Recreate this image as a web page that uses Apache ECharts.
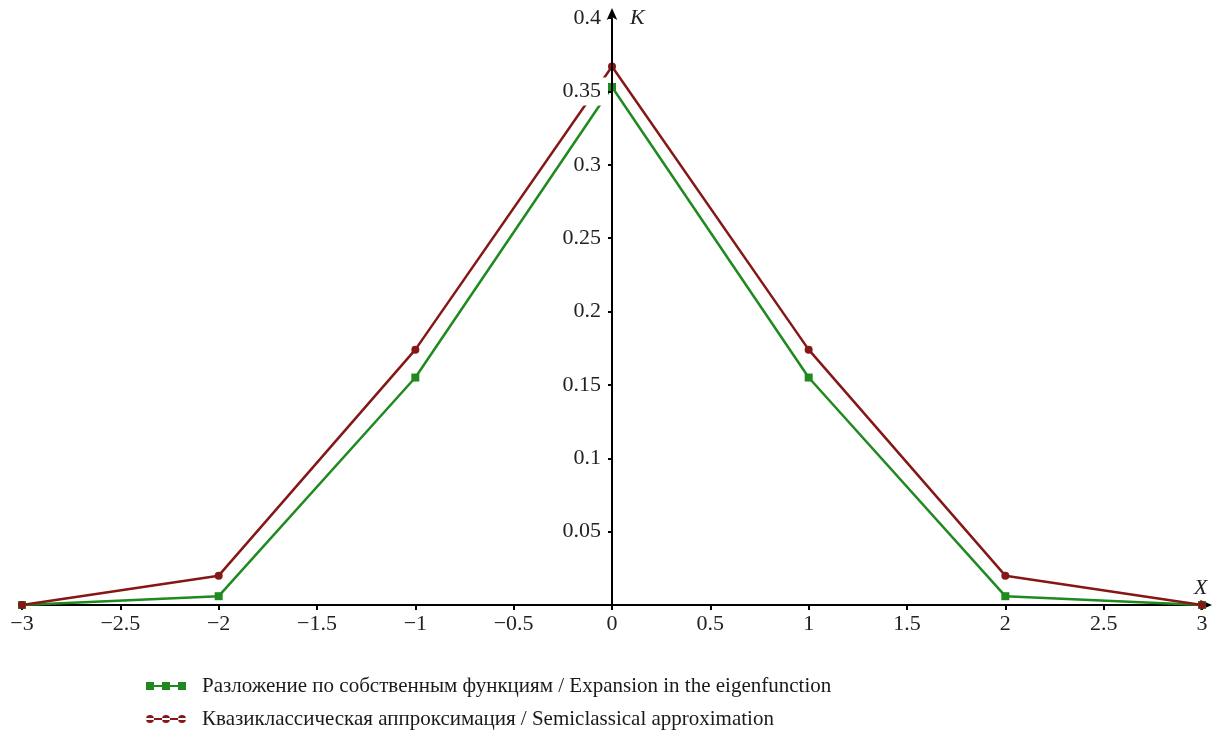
<!DOCTYPE html>
<html><head><meta charset="utf-8">
<script src="https://cdn.jsdelivr.net/npm/echarts@6/dist/echarts.min.js"></script>
<style>html,body{margin:0;padding:0;background:#fff}#c{width:1221px;height:732px}</style>
</head><body><div id="c"></div>
<script>
const xValues = [-3, -2, -1, 0, 1, 2, 3];
const eigenValues = [0, 0.006, 0.155, 0.353, 0.155, 0.006, 0];
const semiValues = [0, 0.020, 0.174, 0.367, 0.174, 0.020, 0];
const seriesNames = ['Разложение по собственным функциям / Expansion in the eigenfunction',
                     'Квазиклассическая аппроксимация / Semiclassical approximation'];
const GREEN = '#1f8a1f', RED = '#851717';
const FONT = '"Liberation Serif", "Times New Roman", serif';
const fmtMinus = v => String(v).replace('-', '\u2212');

const chart = echarts.init(document.getElementById('c'));
const sqIcon = 'path://M0,4h40v2H0z M0,1h8v8H0z M16,1h8v8H16z M32,1h8v8H32z';
const ciIcon = 'path://M0,4h40v2H0z M0,5a4,4 0 1,0 8,0a4,4 0 1,0 -8,0z M16,5a4,4 0 1,0 8,0a4,4 0 1,0 -8,0z M32,5a4,4 0 1,0 8,0a4,4 0 1,0 -8,0z';
chart.setOption({
  animation: false,
  grid: {left: 22, right: 19, top: 18, bottom: 127, containLabel: false, outerBoundsMode: 'none'},
  legend: {
    orient: 'vertical', left: 146, top: 674, padding: 0, itemGap: 9, itemWidth: 40, itemHeight: 10,
    textStyle: {fontFamily: FONT, fontSize: 21, color: '#1a1a1a', lineHeight: 24, padding: [0, 0, 0, 11]},
    data: [{name: seriesNames[0], icon: sqIcon}, {name: seriesNames[1], icon: ciIcon}]
  },
  xAxis: {
    type: 'value', min: -3, max: 3, interval: 0.5,
    name: 'X', nameLocation: 'end', nameGap: -8,
    nameTextStyle: {fontFamily: FONT, fontSize: 22, fontStyle: 'italic', color: '#222', verticalAlign: 'bottom', padding: [0, 0, 6, 0]},
    axisLine: {onZero: true, lineStyle: {color: '#000', width: 2}, symbol: ['none', 'arrow'], symbolSize: [8, 12], symbolOffset: [0, 10]},
    axisTick: {show: true, length: 5, lineStyle: {color: '#000', width: 2}},
    axisLabel: {fontFamily: FONT, fontSize: 22, color: '#222', margin: 8, formatter: fmtMinus},
    splitLine: {show: false}
  },
  yAxis: {
    type: 'value', min: 0, max: 0.4, interval: 0.05, z: 5,
    name: 'K', nameLocation: 'end', nameGap: 0,
    nameTextStyle: {fontFamily: FONT, fontSize: 22, fontStyle: 'italic', color: '#222', align: 'left', verticalAlign: 'middle', padding: [0, 0, 0, 18]},
    axisLine: {onZero: true, lineStyle: {color: '#000', width: 2}, symbol: ['none', 'arrow'], symbolSize: [8, 12], symbolOffset: [0, 10]},
    axisTick: {show: true, length: 5, lineStyle: {color: '#000', width: 2}},
    axisLabel: {fontFamily: FONT, fontSize: 22, color: '#222', margin: -586, showMinLabel: false,
                backgroundColor: '#fff', padding: [3, 7, 3, 2]},
    splitLine: {show: false}
  },
  series: [
    {name: seriesNames[0], type: 'line', z: 3,
     data: xValues.map((x, i) => [x, eigenValues[i]]),
     symbol: 'rect', symbolSize: 8, showAllSymbol: true,
     lineStyle: {color: GREEN, width: 2.5}, itemStyle: {color: GREEN}},
    {name: seriesNames[1], type: 'line', z: 4,
     data: xValues.map((x, i) => [x, semiValues[i]]),
     symbol: 'circle', symbolSize: 8, showAllSymbol: true,
     lineStyle: {color: RED, width: 2.5}, itemStyle: {color: RED}}
  ]
});
</script></body></html>
